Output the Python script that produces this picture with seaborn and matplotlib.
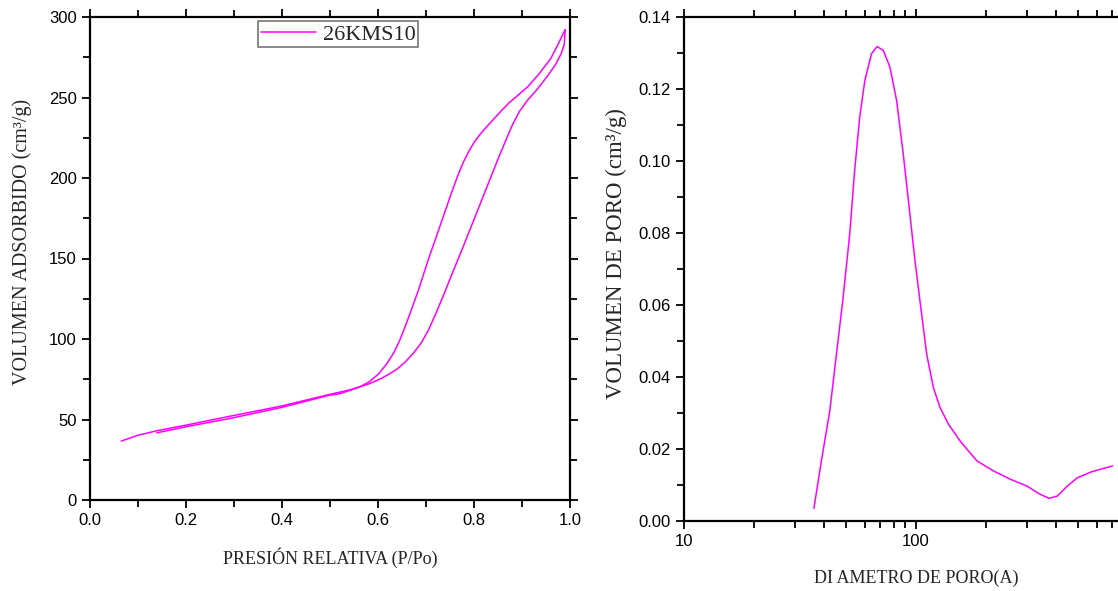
import matplotlib
matplotlib.use("Agg")
import matplotlib.pyplot as plt
import matplotlib.ticker as mticker
import seaborn as sns
import pandas as pd
from matplotlib import font_manager

# ---------------- data ----------------
ads_p = [0.065, 0.10, 0.139, 0.20, 0.291, 0.398, 0.498, 0.54, 0.58, 0.602, 0.622, 0.641,
         0.657, 0.673, 0.69, 0.705, 0.72, 0.737, 0.753, 0.777, 0.801, 0.825, 0.849, 0.865,
         0.88, 0.895, 0.912, 0.93, 0.952, 0.97, 0.982, 0.988, 0.990]
ads_v = [36.6, 40.2, 43.0, 46.5, 52.0, 58.3, 65.5, 68.3, 72.0, 74.8, 78.0, 81.6,
         85.8, 90.9, 97.5, 105.4, 115.5, 127.5, 139.5, 157.0, 175.0, 193.0, 211.0, 222.5,
         233.0, 241.5, 248.5, 254.5, 262.9, 270.5, 277.5, 283.0, 292.0]

des_p = [0.990, 0.975, 0.960, 0.935, 0.912, 0.890, 0.872, 0.853, 0.833, 0.815, 0.801,
         0.789, 0.777, 0.765, 0.753, 0.729, 0.705, 0.685, 0.670, 0.657, 0.645, 0.633,
         0.618, 0.602, 0.582, 0.562, 0.522, 0.498, 0.398, 0.291, 0.200, 0.139]
des_v = [292.2, 283.0, 274.2, 264.5, 256.7, 251.0, 246.4, 240.5, 234.0, 228.0, 222.5,
         216.5, 209.3, 200.5, 190.7, 170.0, 149.5, 131.0, 118.5, 108.0, 99.0, 91.5,
         84.5, 78.5, 73.5, 70.2, 66.1, 65.0, 57.4, 50.6, 45.5, 41.7]

pore_d = [36.3, 39.1, 42.5, 45.4, 48.5, 51.8, 54.4, 57.2, 60.2, 64.3, 68.0, 72.3,
          77.2, 82.5, 88.1, 94.1, 99.0, 104, 111.2, 118.9, 127, 138, 155, 183,
          216, 255, 301, 339, 374, 406, 449, 496, 567, 626, 703]
pore_v = [0.0035, 0.0167, 0.0306, 0.0463, 0.0620, 0.0797, 0.0974, 0.1122, 0.1224,
          0.1298, 0.1318, 0.1307, 0.1261, 0.1168, 0.1020, 0.0853, 0.0723, 0.0612,
          0.0463, 0.0370, 0.0315, 0.0269, 0.0222, 0.0167, 0.0139, 0.0116, 0.0097, 0.0076,
          0.0063, 0.0069, 0.0097, 0.0120, 0.0136, 0.0144, 0.0153]

series_label = "26KMS10"
x_ticks_left = [0.0, 0.2, 0.4, 0.6, 0.8, 1.0]
y_ticks_left = [0, 50, 100, 150, 200, 250, 300]
y_ticks_right = [0.00, 0.02, 0.04, 0.06, 0.08, 0.10, 0.12, 0.14]

# ---------------- style ----------------
sns.set_style("ticks")
avail = {f.name for f in font_manager.fontManager.ttflist}
tick_family = [f for f in ["Liberation Sans Narrow", "Arial Narrow", "Liberation Sans", "DejaVu Sans"] if f in avail]
serif_family = [f for f in ["Liberation Serif", "DejaVu Serif"] if f in avail]
plt.rcParams['font.family'] = tick_family
MAG = "#ff00ff"

W, H = 1118, 591
fig = plt.figure(figsize=(W / 100, H / 100), dpi=100)

# left axes: x 90->570, y 17->500
ax1 = fig.add_axes([90 / W, (H - 500) / H, 480 / W, 483 / H])
# right axes: x 684->1148 (10..1000 log), y 17->521
ax2 = fig.add_axes([684 / W, (H - 521) / H, 464 / W, 504 / H])

df_ads = pd.DataFrame({"p": ads_p, "v": ads_v})
df_des = pd.DataFrame({"p": des_p, "v": des_v})
sns.lineplot(data=df_ads, x="p", y="v", ax=ax1, sort=False, estimator=None,
             color=MAG, lw=1.1, label=series_label)
sns.lineplot(data=df_des, x="p", y="v", ax=ax1, sort=False, estimator=None,
             color=MAG, lw=1.1)

ax1.set_xlim(0, 1.0)
ax1.set_ylim(0, 300)
ax1.set_xticks(x_ticks_left)
ax1.set_xticklabels([f"{t:.1f}" for t in x_ticks_left])
ax1.set_yticks(y_ticks_left)
ax1.set_yticklabels([str(t) for t in y_ticks_left])
ax1.xaxis.set_minor_locator(mticker.MultipleLocator(0.1))
ax1.yaxis.set_minor_locator(mticker.MultipleLocator(25))

ax1.set_xlabel("PRESIÓN RELATIVA (P/Po)", family=serif_family, fontsize=13, labelpad=14)
ax1.set_ylabel("VOLUMEN ADSORBIDO (cm³/g)", family=serif_family, fontsize=14.5, labelpad=10)
ax1.yaxis.set_label_coords(-0.12, 0.535)

leg = ax1.legend(loc="upper center", bbox_to_anchor=(0.517, 1.0), borderaxespad=0.2,
                 frameon=True, fancybox=False, handlelength=2.5, handletextpad=0.3,
                 borderpad=0.12, prop={"family": serif_family, "size": 16})
leg.get_frame().set_edgecolor("#555555")
leg.get_frame().set_linewidth(1.2)

df_pore = pd.DataFrame({"d": pore_d, "v": pore_v})
sns.lineplot(data=df_pore, x="d", y="v", ax=ax2, sort=False, estimator=None,
             color=MAG, lw=1.1)
ax2.set_xscale("log")
ax2.set_xlim(10, 1000)
ax2.set_ylim(0, 0.14)
ax2.xaxis.set_major_locator(mticker.FixedLocator([10, 100]))
ax2.xaxis.set_major_formatter(mticker.FixedFormatter(["10", "100"]))
ax2.xaxis.set_minor_locator(mticker.LogLocator(base=10, subs=[2, 3, 4, 5, 6, 7, 8, 9]))
ax2.xaxis.set_minor_formatter(mticker.NullFormatter())
ax2.set_yticks(y_ticks_right)
ax2.set_yticklabels([f"{t:.2f}" for t in y_ticks_right])
ax2.yaxis.set_minor_locator(mticker.MultipleLocator(0.01))
ax2.set_xlabel("DI AMETRO DE PORO(A)", family=serif_family, fontsize=13, labelpad=15)
ax2.set_ylabel("VOLUMEN DE PORO (cm³/g)", family=serif_family, fontsize=16.5, labelpad=6)
ax2.yaxis.set_label_coords(-0.122, 0.53)

for ax in (ax1, ax2):
    for s in ax.spines.values():
        s.set_linewidth(1.6)
        s.set_color("black")
    ax.tick_params(which="both", direction="out", width=1.3, labelsize=12, colors="black",
                   top=True, right=True, labeltop=False, labelright=False)
    ax.tick_params(which="major", length=6)
    ax.tick_params(which="minor", length=5)

fig.savefig("out.png", dpi=100)
